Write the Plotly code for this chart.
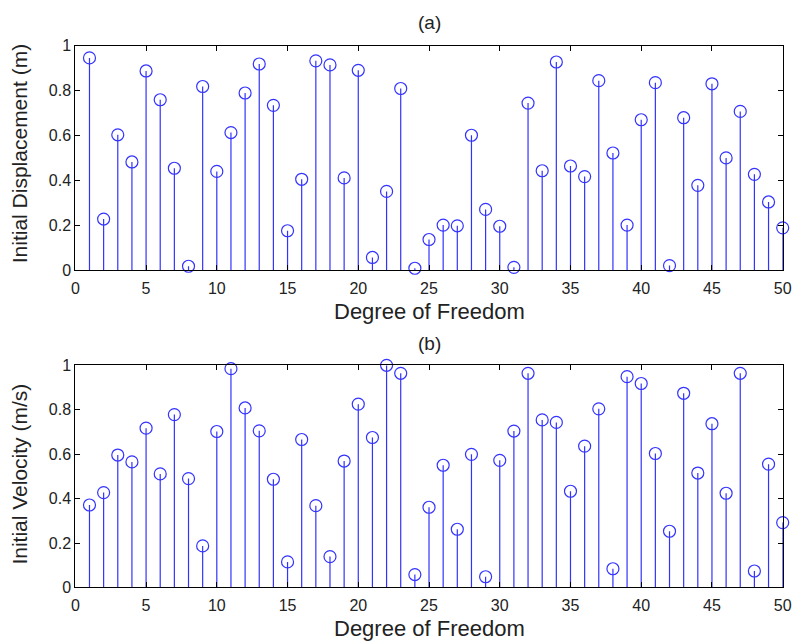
import plotly.graph_objects as go

dof = list(range(1, 51))
displacement = [0.945, 0.228, 0.603, 0.482, 0.887, 0.759, 0.454, 0.018, 0.818, 0.440,
                0.613, 0.789, 0.918, 0.734, 0.176, 0.405, 0.932, 0.914, 0.411, 0.890,
                0.057, 0.351, 0.809, 0.009, 0.137, 0.201, 0.198, 0.601, 0.271, 0.196,
                0.013, 0.744, 0.443, 0.927, 0.464, 0.417, 0.844, 0.522, 0.201, 0.670,
                0.835, 0.021, 0.679, 0.378, 0.830, 0.500, 0.707, 0.427, 0.304, 0.189]
velocity = [0.371, 0.427, 0.596, 0.565, 0.717, 0.511, 0.778, 0.490, 0.187, 0.702,
            0.985, 0.808, 0.705, 0.487, 0.115, 0.666, 0.368, 0.139, 0.569, 0.825,
            0.675, 1.000, 0.964, 0.058, 0.361, 0.550, 0.262, 0.599, 0.048, 0.572,
            0.704, 0.964, 0.754, 0.743, 0.433, 0.636, 0.804, 0.084, 0.949, 0.918,
            0.603, 0.253, 0.874, 0.515, 0.737, 0.424, 0.964, 0.074, 0.555, 0.292]
x_ticks = list(range(0, 51, 5))
y_ticks = [0, 0.2, 0.4, 0.6, 0.8, 1]

BLUE = "#3333ff"
FONT = "Liberation Sans, Arial, sans-serif"
TXT = "#222"

fig = go.Figure()


def add_stem(xs, ys, xa, ya):
    sx, sy = [], []
    for x, y in zip(xs, ys):
        sx += [x, x, None]
        sy += [0, y, None]
    fig.add_trace(go.Scatter(x=sx, y=sy, mode="lines", line=dict(color=BLUE, width=1.2),
                             xaxis=xa, yaxis=ya, showlegend=False, hoverinfo="skip",
                             cliponaxis=False))
    fig.add_trace(go.Scatter(x=xs, y=ys, mode="markers",
                             marker=dict(symbol="circle-open", size=12, color=BLUE,
                                         line=dict(width=1.2, color=BLUE)),
                             xaxis=xa, yaxis=ya, showlegend=False, cliponaxis=False))


add_stem(dof, displacement, "x", "y")
add_stem(dof, velocity, "x2", "y2")

xdom = [0.095, 0.987]
axis_common = dict(showline=True, linecolor="black", linewidth=1.2, mirror="ticks",
                   ticks="inside", ticklen=5, tickcolor="black", showgrid=False,
                   zeroline=False, automargin=False,
                   tickfont=dict(family=FONT, size=16, color=TXT))
ylabels = [f"{v:g}" for v in y_ticks]

fig.update_layout(
    width=793, height=642, margin=dict(l=0, r=0, t=0, b=0),
    template="none", paper_bgcolor="white", plot_bgcolor="white",
    font=dict(family=FONT, color=TXT),
    xaxis=dict(domain=xdom, anchor="y", range=[0, 50], tickvals=x_ticks,
               ticklabelstandoff=3, **axis_common),
    yaxis=dict(domain=[0.579, 0.929], anchor="x", range=[0, 1], tickvals=y_ticks,
               ticktext=ylabels, **axis_common),
    xaxis2=dict(domain=xdom, anchor="y2", range=[0, 50], tickvals=x_ticks,
                ticklabelstandoff=3, **axis_common),
    yaxis2=dict(domain=[0.085, 0.431], anchor="x2", range=[0, 1], tickvals=y_ticks,
                ticktext=ylabels, **axis_common),
)

ann = [
    ("(a)", 0.541, 0.9657, 0, 19),
    ("(b)", 0.541, 0.4657, 0, 19),
    ("Degree of Freedom", 0.541, 0.5145, 0, 22),
    ("Degree of Freedom", 0.541, 0.0218, 0, 22),
    ("Initial Displacement (m)", 0.025, 0.761, -90, 21),
    ("Initial Velocity (m/s)", 0.025, 0.262, -90, 21),
]
for text, x, y, ang, size in ann:
    fig.add_annotation(text=text, x=x, y=y, xref="paper", yref="paper", showarrow=False,
                       xanchor="center", yanchor="middle", textangle=ang,
                       font=dict(family=FONT, size=size, color=TXT))

fig.write_html("out.html")
